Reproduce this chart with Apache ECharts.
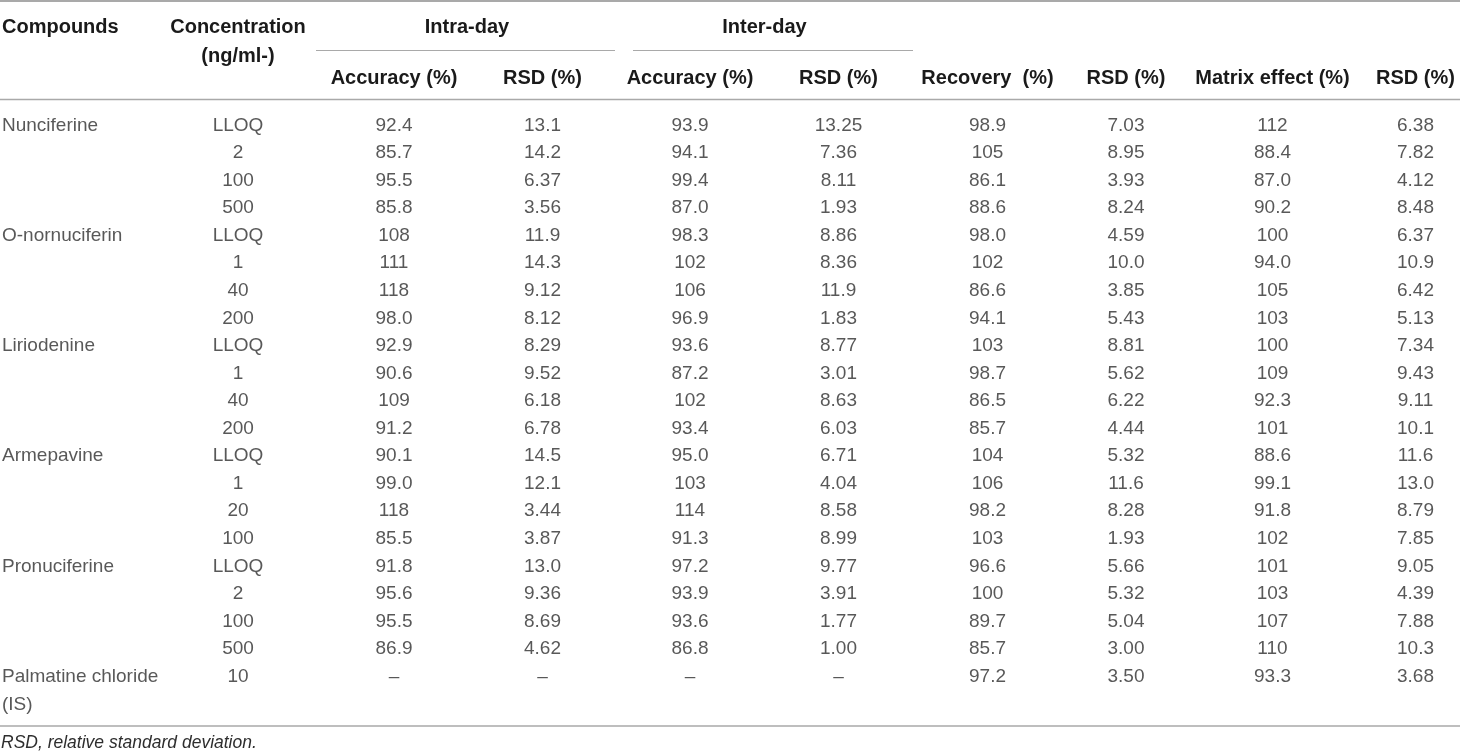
<!DOCTYPE html>
<html lang="en">
<head>
    <meta charset="UTF-8">
    <title>Accuracy, precision, recovery and matrix effect</title>
    <style>
        html, body {
            margin: 0;
            padding: 0;
            background: #fff;
        }
        #main {
            width: 1460px;
            height: 755px;
        }
    </style>
    <script src="https://cdn.jsdelivr.net/npm/echarts@6/dist/echarts.min.js"></script>
</head>
<body>
<div id="main"></div>
<script>
    // table content, one array per column
    var compounds = ['Nunciferine', 'O-nornuciferin', 'Liriodenine', 'Armepavine', 'Pronuciferine', 'Palmatine chloride\n(IS)'];
    var compoundRows = [0, 4, 8, 12, 16, 20];
    var concentrations = ['LLOQ', '2', '100', '500', 'LLOQ', '1', '40', '200', 'LLOQ', '1', '40', '200', 'LLOQ', '1', '20', '100', 'LLOQ', '2', '100', '500', '10'];
    var intraAccuracy = ['92.4', '85.7', '95.5', '85.8', '108', '111', '118', '98.0', '92.9', '90.6', '109', '91.2', '90.1', '99.0', '118', '85.5', '91.8', '95.6', '95.5', '86.9', '–'];
    var intraRsd = ['13.1', '14.2', '6.37', '3.56', '11.9', '14.3', '9.12', '8.12', '8.29', '9.52', '6.18', '6.78', '14.5', '12.1', '3.44', '3.87', '13.0', '9.36', '8.69', '4.62', '–'];
    var interAccuracy = ['93.9', '94.1', '99.4', '87.0', '98.3', '102', '106', '96.9', '93.6', '87.2', '102', '93.4', '95.0', '103', '114', '91.3', '97.2', '93.9', '93.6', '86.8', '–'];
    var interRsd = ['13.25', '7.36', '8.11', '1.93', '8.86', '8.36', '11.9', '1.83', '8.77', '3.01', '8.63', '6.03', '6.71', '4.04', '8.58', '8.99', '9.77', '3.91', '1.77', '1.00', '–'];
    var recovery = ['98.9', '105', '86.1', '88.6', '98.0', '102', '86.6', '94.1', '103', '98.7', '86.5', '85.7', '104', '106', '98.2', '103', '96.6', '100', '89.7', '85.7', '97.2'];
    var recoveryRsd = ['7.03', '8.95', '3.93', '8.24', '4.59', '10.0', '3.85', '5.43', '8.81', '5.62', '6.22', '4.44', '5.32', '11.6', '8.28', '1.93', '5.66', '5.32', '5.04', '3.00', '3.50'];
    var matrixEffect = ['112', '88.4', '87.0', '90.2', '100', '94.0', '105', '103', '100', '109', '92.3', '101', '88.6', '99.1', '91.8', '102', '101', '103', '107', '110', '93.3'];
    var matrixRsd = ['6.38', '7.82', '4.12', '8.48', '6.37', '10.9', '6.42', '5.13', '7.34', '9.43', '9.11', '10.1', '11.6', '13.0', '8.79', '7.85', '9.05', '4.39', '7.88', '10.3', '3.68'];

    var headers = ['Compounds', 'Concentration\n(ng/ml-)', 'Accuracy (%)', 'RSD (%)', 'Accuracy (%)', 'RSD (%)',
        'Recovery  (%)', 'RSD (%)', 'Matrix effect (%)', 'RSD (%)'];
    var groupHeaders = ['Intra-day', 'Inter-day'];
    var footnote = 'RSD, relative standard deviation.';

    // layout
    var FONT = '"Liberation Sans", Arial, Helvetica, sans-serif';
    var DY = 1.5; // canvas 'middle' sits a little high
    var ROW_H = 27.55;
    var GRID_TOP = 124 + DY - ROW_H / 2;
    var colCenters = [2, 238, 394, 542.5, 690, 838.5, 987.5, 1126, 1272.5, 1415.5];
    var headerCenterY = 77 + DY;

    var columns = [
        {rows: compoundRows, values: compounds},
        {values: concentrations},
        {values: intraAccuracy},
        {values: intraRsd},
        {values: interAccuracy},
        {values: interRsd},
        {values: recovery},
        {values: recoveryRsd},
        {values: matrixEffect},
        {values: matrixRsd}
    ];

    var rowIds = concentrations.map(function (c, i) { return String(i); });

    var grids = [], xAxes = [], yAxes = [], series = [];
    columns.forEach(function (col, i) {
        var rows = col.rows || col.values.map(function (v, r) { return r; });
        var isFirst = i === 0;
        var margin = GRID_TOP - headerCenterY;
        if (i === 0) margin = GRID_TOP - (26 + DY);
        if (i === 1) margin = GRID_TOP - (40.5 + DY);

        grids.push({
            left: colCenters[i] - 1,
            width: 2,
            top: GRID_TOP,
            height: ROW_H * rowIds.length,
            outerBoundsMode: 'none'
        });
        xAxes.push({
            gridIndex: i,
            type: 'category',
            position: 'top',
            data: [headers[i]],
            axisLine: {show: false},
            axisTick: {show: false},
            splitLine: {show: false},
            axisLabel: {
                interval: 0,
                margin: margin,
                align: isFirst ? 'left' : 'center',
                verticalAlign: 'middle',
                fontFamily: FONT,
                fontWeight: 'bold',
                fontSize: 20,
                lineHeight: 29,
                color: '#1a1a1a'
            }
        });
        yAxes.push({
            gridIndex: i,
            type: 'category',
            data: rowIds,
            inverse: true,
            show: false
        });
        series.push({
            type: 'scatter',
            xAxisIndex: i,
            yAxisIndex: i,
            symbolSize: 0,
            silent: true,
            itemStyle: {color: 'transparent'},
            data: rows.map(function (r) { return [0, r]; }),
            label: {
                show: true,
                position: 'inside',
                align: isFirst ? 'left' : 'center',
                verticalAlign: isFirst ? 'top' : 'middle',
                offset: isFirst ? [0, -14] : [0, 0],
                lineHeight: 28,
                fontFamily: FONT,
                fontSize: 19,
                color: '#2e2e2e',
                formatter: function (p) { return col.values[p.dataIndex]; }
            }
        });
    });

    var ruleColor = '#a9a9a9';
    function rule(x1, x2, y, w) {
        return {
            type: 'line',
            silent: true,
            shape: {x1: x1, y1: y, x2: x2, y2: y},
            style: {stroke: ruleColor, lineWidth: w}
        };
    }
    function text(str, x, y, opts) {
        return {
            type: 'text',
            silent: true,
            x: x,
            y: y + DY,
            style: Object.assign({
                text: str,
                fill: '#1a1a1a',
                fontFamily: FONT,
                fontSize: 20,
                fontWeight: 'bold',
                align: 'center',
                verticalAlign: 'middle'
            }, opts || {})
        };
    }

    var chart = echarts.init(document.getElementById('main'));
    chart.setOption({
        animation: false,
        backgroundColor: '#fff',
        grid: grids,
        xAxis: xAxes,
        yAxis: yAxes,
        series: series,
        graphic: [
            rule(0, 1460, 1, 2),
            rule(316, 615, 50.5, 1),
            rule(633, 913, 50.5, 1),
            rule(0, 1460, 99.5, 1.5),
            rule(0, 1460, 726, 1.5),
            text(groupHeaders[0], 467, 26),
            text(groupHeaders[1], 764.5, 26),
            text(footnote, 1, 742, {
                fontWeight: 'normal',
                fontStyle: 'italic',
                fontSize: 17.5,
                align: 'left',
                fill: '#2e2e2e'
            })
        ]
    });
</script>
</body>
</html>
